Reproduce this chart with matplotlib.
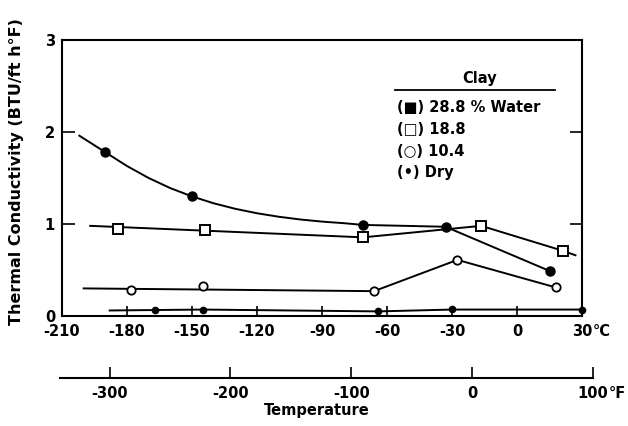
import matplotlib
matplotlib.use('Agg')
import matplotlib.pyplot as plt

# ---------------- data ----------------
c_ticks = [-210, -180, -150, -120, -90, -60, -30, 0, 30]
c_tick_labels = ['-210', '-180', '-150', '-120', '-90', '-60', '-30', '0', '30']
f_ticks = [-300, -200, -100, 0, 100]
f_tick_labels = ['-300', '-200', '-100', '0', '100']
y_ticks = [0, 1, 2, 3]
y_tick_labels = ['0', '1', '2', '3']

# 28.8 % water (filled circles): smooth curve part + straight segments
w288_curve_x = [-202, -190, -180, -170, -160, -150, -140, -130, -120, -110, -100, -90, -80, -71]
w288_curve_y = [1.96, 1.78, 1.63, 1.50, 1.39, 1.30, 1.225, 1.165, 1.117, 1.079, 1.049, 1.026, 1.009, 0.99]
w288_seg_x = [-71, -33, 15]
w288_seg_y = [0.99, 0.97, 0.49]
w288_pts_x = [-190, -150, -71, -33, 15]
w288_pts_y = [1.78, 1.30, 0.99, 0.97, 0.49]

# 18.8 (open squares)
w188_line_x = [-197, -71, -16.5, 21, 27]
w188_line_y = [0.98, 0.855, 0.98, 0.71, 0.66]
w188_pts_x = [-184, -144, -71, -16.5, 21]
w188_pts_y = [0.95, 0.93, 0.855, 0.98, 0.71]

# 10.4 (open circles)
w104_line_x = [-200, -66, -27.5, 18]
w104_line_y = [0.30, 0.27, 0.61, 0.31]
w104_pts_x = [-178, -145, -66, -27.5, 18]
w104_pts_y = [0.28, 0.33, 0.27, 0.61, 0.31]

# Dry (small dots)
dry_line_x = [-188, -145, -64, -30, 30]
dry_line_y = [0.06, 0.07, 0.05, 0.07, 0.07]
dry_pts_x = [-167, -145, -64, -30, 30]
dry_pts_y = [0.06, 0.07, 0.05, 0.08, 0.07]

legend_title = 'Clay'
legend_entries = ['(\u25A0) 28.8 % Water', '(\u25A1) 18.8', '(\u25CB) 10.4', '(\u2022) Dry']

# ---------------- figure ----------------
W, H = 628, 426
plt.rcParams['font.family'] = ['DejaVu Sans']
plt.rcParams['font.weight'] = 'bold'
fig = plt.figure(figsize=(6.28, 4.26), dpi=100)
fig.patch.set_facecolor('white')


def fx(px):
    return px / W


def fy(py):
    return 1 - py / H


L, R, T, B = 62, 582, 40, 316
ax = fig.add_axes([fx(L), fy(B), (R - L) / W, (B - T) / H])
ax.set_xlim(-210, 30)
ax.set_ylim(0, 3)
for s in ax.spines.values():
    s.set_linewidth(1.5)
    s.set_color('black')

lw = 1.4
k = 'black'
ax.plot(w288_curve_x, w288_curve_y, color=k, lw=lw)
ax.plot(w288_seg_x, w288_seg_y, color=k, lw=lw)
ax.plot(w288_pts_x, w288_pts_y, 'o', ms=6.5, mfc=k, mec=k, clip_on=False)

ax.plot(w188_line_x, w188_line_y, color=k, lw=lw)
ax.plot(w188_pts_x, w188_pts_y, 's', ms=7, mfc='white', mec=k, mew=1.4, clip_on=False)

ax.plot(w104_line_x, w104_line_y, color=k, lw=lw)
ax.plot(w104_pts_x, w104_pts_y, 'o', ms=6, mfc='white', mec=k, mew=1.3, clip_on=False)

ax.plot(dry_line_x, dry_line_y, color=k, lw=lw, clip_on=False)
ax.plot(dry_pts_x, dry_pts_y, 'o', ms=4.5, mfc=k, mec=k, clip_on=False)

ax.set_xticks(c_ticks)
ax.set_xticklabels(c_tick_labels)
ax.set_yticks(y_ticks)
ax.set_yticklabels(y_tick_labels)
ax.tick_params(axis='x', direction='in', length=7, width=1.2, labelsize=10.5, pad=6)
ax.tick_params(axis='y', direction='in', length=9, width=1.2, labelsize=10.5, pad=5,
               right=True)
for t in ax.get_xticklabels() + ax.get_yticklabels():
    t.set_fontweight('bold')

ax.annotate('\u00B0C', xy=(30, 0), xycoords='data', xytext=(8, -6),
            textcoords='offset points', ha='left', va='top', fontsize=10.5,
            fontweight='bold', annotation_clip=False)

ax.set_ylabel('Thermal Conductivity (BTU/ft h\u00B0F)', fontsize=11.5,
              fontweight='bold')
ax.yaxis.set_label_coords((24 - L) / (R - L), (B - 172) / (B - T))

# legend block
lx = fx(397)
fig.text(fx(480), fy(78), legend_title, ha='center', va='center', fontsize=10.5,
         fontweight='bold')
fig.add_artist(plt.Line2D([fx(395), fx(555)], [fy(90), fy(90)], color=k, lw=1.3))
for yy, s in zip([108, 130, 151, 172], legend_entries):
    fig.text(lx, fy(yy), s, ha='left', va='center', fontsize=10.5, fontweight='bold')

# Fahrenheit axis
ax2 = fig.add_axes([fx(60), fy(378), (593 - 60) / W, 0.0005])
ax2.set_xlim(-341, 100)
ax2.set_ylim(0, 1)
ax2.patch.set_visible(False)
for side in ['top', 'left', 'right']:
    ax2.spines[side].set_visible(False)
ax2.spines['bottom'].set_linewidth(1.5)
ax2.set_yticks([])
ax2.set_xticks(f_ticks)
ax2.set_xticklabels(f_tick_labels)
ax2.tick_params(axis='x', direction='in', length=8, width=1.2, labelsize=10.5, pad=6)
for t in ax2.get_xticklabels():
    t.set_fontweight('bold')
ax2.annotate('\u00B0F', xy=(100, 0), xycoords='data', xytext=(11, -6),
             textcoords='offset points', ha='left', va='top', fontsize=10.5,
             fontweight='bold', annotation_clip=False)
fig.text(fx(317), fy(410), 'Temperature', ha='center', va='center', fontsize=10.5,
         fontweight='bold')

fig.savefig('out.png', dpi=100, facecolor='white')
